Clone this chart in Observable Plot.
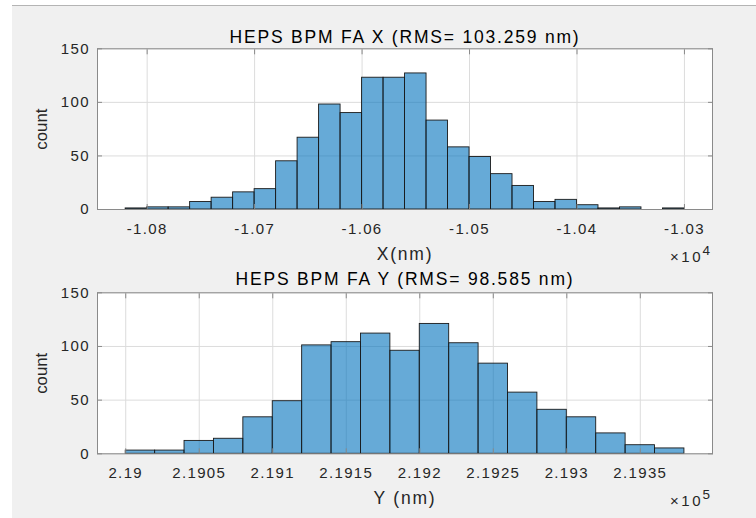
<!DOCTYPE html>
<html><head><meta charset="utf-8">
<script src="https://cdn.jsdelivr.net/npm/d3@7"></script>
<script src="https://cdn.jsdelivr.net/npm/@observablehq/plot@0.6"></script>
<style>
body{margin:0;background:#fff;}
#fig{position:relative;width:756px;height:518px;overflow:hidden;background:#fff;font-family:"Liberation Sans",Arial,sans-serif;}
#bg{position:absolute;left:12px;top:5px;right:0;bottom:0;background:#f0f0f0;border-top:1px solid #b4b4b4;}
.panel{position:absolute;left:0;}
</style></head>
<body>
<div id="fig"><div id="bg"></div><div id="top" class="panel" style="top:0"></div><div id="bottom" class="panel" style="top:259px"></div></div>
<script>
// ---- data ----
const xEdges = [-10820,-10800,-10780,-10760,-10740,-10720,-10700,-10680,-10660,-10640,-10620,-10600,-10580,-10560,-10540,-10520,-10500,-10480,-10460,-10440,-10420,-10400,-10380,-10360,-10340,-10320,-10300];
const xCounts = [1,2,2,7,11,16,19,45,67,98,90,123,123,127,83,58,49,33,22,7,9,4,1,2,0,1];
const yEdges = [219000,219020,219040,219060,219080,219100,219120,219140,219160,219180,219200,219220,219240,219260,219280,219300,219320,219340,219360,219380];
const yCounts = [3,3,12,14,34,49,101,104,112,96,121,103,84,57,41,34,19,8,5];
const xTicks = [-10800,-10700,-10600,-10500,-10400,-10300];
const yTicks = [219000,219050,219100,219150,219200,219250,219300,219350];
const countTicks = [0,50,100,150];
const xTickLabels = ["-1.08","-1.07","-1.06","-1.05","-1.04","-1.03"];
const yTickLabels = ["2.19","2.1905","2.191","2.1915","2.192","2.1925","2.193","2.1935"];
const titles = ["HEPS BPM FA X (RMS= 103.259 nm)","HEPS BPM FA Y (RMS= 98.585 nm)"];
const xlabels = ["X(nm)","Y (nm)"];
const exponents = ["4","5"];

function bins(edges, counts){
  return counts.map((c,i)=>({x1:edges[i], x2:edges[i+1], count:c})).filter(d=>d.count>0);
}
function labeler(ticks, labels){ return d => labels[ticks.indexOf(d)] ?? ""; }

const AX = "#8a8a8a";
const FONT = '"Liberation Sans", Arial, sans-serif';
function panel(o){
  const data = bins(o.edges, o.counts);
  const fmt = labeler(o.ticks, o.labels);
  const svg = Plot.plot({
    width: 756, height: o.height,
    marginLeft: 97, marginRight: 44, marginTop: o.marginTop, marginBottom: o.marginBottom,
    style: {background:"transparent", fontFamily:FONT, fontSize:"15px", color:"#262626", overflow:"visible"},
    x: {domain: o.domain},
    y: {domain: [0,150]},
    marks: [
      Plot.frame({fill:"white"}),
      Plot.gridX(o.ticks, {stroke:"#dcdcdc", strokeOpacity:1}),
      Plot.gridY(countTicks, {stroke:"#dcdcdc", strokeOpacity:1}),
      Plot.rectY(data, {x1:"x1", x2:"x2", y:"count", fill:"#0072BD", fillOpacity:0.6, stroke:"#1a1a1a", strokeWidth:0.9}),
      Plot.axisX(o.ticks, {anchor:"bottom", tickSize:-5, tickPadding:18.6, tickFormat:fmt, stroke:AX, label:null, fontSize:15}),
      Plot.axisX(o.ticks, {anchor:"top", tickSize:-5, tickFormat:()=>"", stroke:AX, label:null}),
      Plot.axisY(countTicks, {anchor:"left", tickSize:-5, tickPadding:12.6, stroke:AX, label:null, fontSize:15}),
      Plot.axisY(countTicks, {anchor:"right", tickSize:-5, tickFormat:()=>"", stroke:AX, label:null}),
      Plot.frame({stroke:AX}),
      Plot.text([o.title], {text:d=>d, frameAnchor:"top", lineAnchor:"bottom", dy:o.titleDy, fontSize:17.5, fill:"#000"}),
      Plot.text([o.xlabel], {text:d=>d, frameAnchor:"bottom", lineAnchor:"bottom", dy:o.xlabelDy, fontSize:17.5}),
      Plot.text(["count"], {text:d=>d, frameAnchor:"left", textAnchor:"middle", rotate:-90, lineAnchor:"bottom", dx:-50.3, fontSize:16.8}),
      Plot.text(["×10"], {text:d=>d, frameAnchor:"bottom-right", textAnchor:"end", lineAnchor:"bottom", dx:-9.5, dy:o.multDy, fontSize:15}),
      Plot.text([o.exp], {text:d=>d, frameAnchor:"bottom-right", textAnchor:"start", lineAnchor:"bottom", dx:-10, dy:o.multDy-7, fontSize:13.5})
    ]
  });
  // letter spacing mimics the horizontally stretched reference typography
  d3.select(svg).selectAll("text").each(function(){
    const t = this.textContent;
    let ls = "1.35px";
    if (t === o.title) ls = "1.8px";
    else if (t === o.xlabel) ls = "1.8px";
    else if (t === "count" || t === o.exp) ls = "0px";
    else if (t === "×10") ls = "2.5px";
    this.style.letterSpacing = ls;
    this.style.fontFamily = FONT;
  });
  return svg;
}

document.getElementById("top").append(panel({
  edges:xEdges, counts:xCounts, ticks:xTicks, labels:xTickLabels, domain:[-10846.2,-10273.9],
  title:titles[0], xlabel:xlabels[0], exp:exponents[0],
  height:265, marginTop:48.3, marginBottom:56, titleDy:-5.6, xlabelDy:50, multDy:52.7
}));
document.getElementById("bottom").append(panel({
  edges:yEdges, counts:yCounts, ticks:yTicks, labels:yTickLabels, domain:[218980.8,219399.1],
  title:titles[1], xlabel:xlabels[1], exp:exponents[1],
  height:259, marginTop:33.3, marginBottom:64.7, titleDy:-8, xlabelDy:50, multDy:51.7
}));
</script>
</body></html>
